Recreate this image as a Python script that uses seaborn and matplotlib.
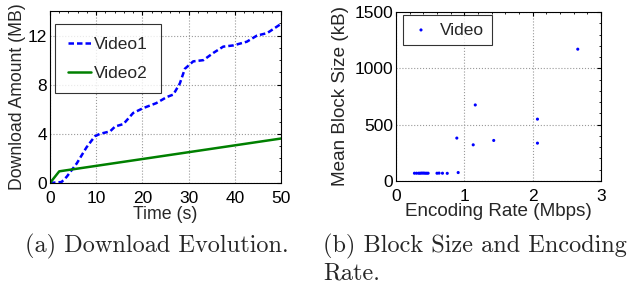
import matplotlib
matplotlib.use("Agg")
import matplotlib.pyplot as plt
from matplotlib.ticker import MultipleLocator
import seaborn as sns
import pandas as pd

# Panel (a) data
v1_time = [0, 2.5, 3.6, 5.8, 7.9, 9.7, 10.8, 13, 14.1, 15.9, 18, 20.2, 23, 25.3, 26.7, 28.1, 29.2, 31, 33.2, 35.4, 37.5, 39.7, 42.6, 44.8, 47, 50]
v1_amount = [0, 0.08, 0.5, 1.6, 2.9, 3.8, 4.0, 4.2, 4.6, 4.8, 5.7, 6.1, 6.5, 7.0, 7.2, 8.1, 9.3, 9.9, 10.0, 10.6, 11.1, 11.2, 11.5, 12.0, 12.2, 12.95]
v2_time = [0, 2, 50]
v2_amount = [0, 0.95, 3.62]

# Panel (b) data
enc_rate = [0.27, 0.30, 0.33, 0.35, 0.37, 0.39, 0.41, 0.43, 0.45, 0.47, 0.60, 0.63, 0.68, 0.75,
            0.89, 0.91, 1.13, 1.16, 1.43, 2.07, 2.07, 2.66]
block_size = [69, 69, 69, 69, 70, 70, 70, 69, 69, 69, 69, 70, 69, 68,
              381, 75, 321, 675, 360, 336, 549, 1170]

sns.set_style("white")
plt.rcParams['font.family'] = ['Liberation Sans', 'DejaVu Sans']

fig = plt.figure(figsize=(6.33, 2.88), dpi=100)
ax1 = fig.add_axes([50/633, 1 - 183/288, 231/633, 172/288])
ax2 = fig.add_axes([396/633, 1 - 181/288, 205/633, 169/288])

fs = 12.5
d1 = pd.DataFrame({"t": v1_time, "a": v1_amount})
d2 = pd.DataFrame({"t": v2_time, "a": v2_amount})
sns.lineplot(data=d1, x="t", y="a", ax=ax1, color="#0000ff", linestyle=(0, (2.2, 1.2)), linewidth=1.8, label="Video1")
sns.lineplot(data=d2, x="t", y="a", ax=ax1, color="#008000", linewidth=1.8, label="Video2")
ax1.set_xlim(0, 50)
ax1.set_ylim(0, 14)
ax1.set_xticks([0, 10, 20, 30, 40, 50])
ax1.set_yticks([0, 4, 8, 12])
ax1.xaxis.set_minor_locator(MultipleLocator(2))
ax1.yaxis.set_minor_locator(MultipleLocator(1))
ax1.set_xlabel("Time (s)", fontsize=12.8, labelpad=0)
ax1.set_ylabel("Download Amount (MB)", fontsize=12.7, labelpad=1)

d3 = pd.DataFrame({"r": enc_rate, "b": block_size})
sns.scatterplot(data=d3, x="r", y="b", ax=ax2, color="#0000ff", s=5, marker="o", edgecolor="none", label="Video")
ax2.set_xlim(0, 3)
ax2.set_ylim(0, 1500)
ax2.set_xticks([0, 1, 2, 3])
ax2.set_yticks([0, 500, 1000, 1500])
ax2.xaxis.set_minor_locator(MultipleLocator(0.2))
ax2.yaxis.set_minor_locator(MultipleLocator(100))
ax2.set_xlabel("Encoding Rate (Mbps)", fontsize=13.6, labelpad=-1)
ax2.set_ylabel("Mean Block Size (kB)", fontsize=13.6, labelpad=4)

for ax in (ax1, ax2):
    ax.grid(True, which="major", linestyle=":", color="#999999", linewidth=0.8)
    for s in ax.spines.values():
        s.set_color("black")
        s.set_linewidth(0.8)
        s.set_visible(True)
    ax.tick_params(which="both", direction="in", top=True, right=True, colors="black")
    ax.tick_params(which="major", length=3, labelsize=fs, pad=2)
    ax.tick_params(which="minor", length=1.6)
    ax.tick_params(axis="x", which="major", pad=6)

leg1 = ax1.legend(loc="upper left", bbox_to_anchor=(5/231, 1 - 13/172), fontsize=fs, frameon=True, fancybox=False,
                  edgecolor="black", handlelength=1.35, handletextpad=0.2, borderpad=0.72, labelspacing=0.8,
                  borderaxespad=0)
leg1.get_frame().set_linewidth(0.8)
leg2 = ax2.legend(loc="upper left", bbox_to_anchor=(0.033, 0.985), fontsize=fs, frameon=True, fancybox=False,
                  edgecolor="black", handlelength=1.2, handletextpad=0.5, borderpad=0.45, borderaxespad=0, markerscale=1.0)
leg2.get_frame().set_linewidth(0.8)

cap = dict(fontsize=17.5, family=["cmr10", "DejaVu Serif"])
fig.text(25/633, 1 - 252/288, "(a) Download Evolution.", **cap)
fig.text(323/633, 1 - 252/288, "(b) Block Size and Encoding", **cap)
fig.text(323/633, 1 - 279/288, "Rate.", **cap)

fig.savefig("out.png", dpi=100)
